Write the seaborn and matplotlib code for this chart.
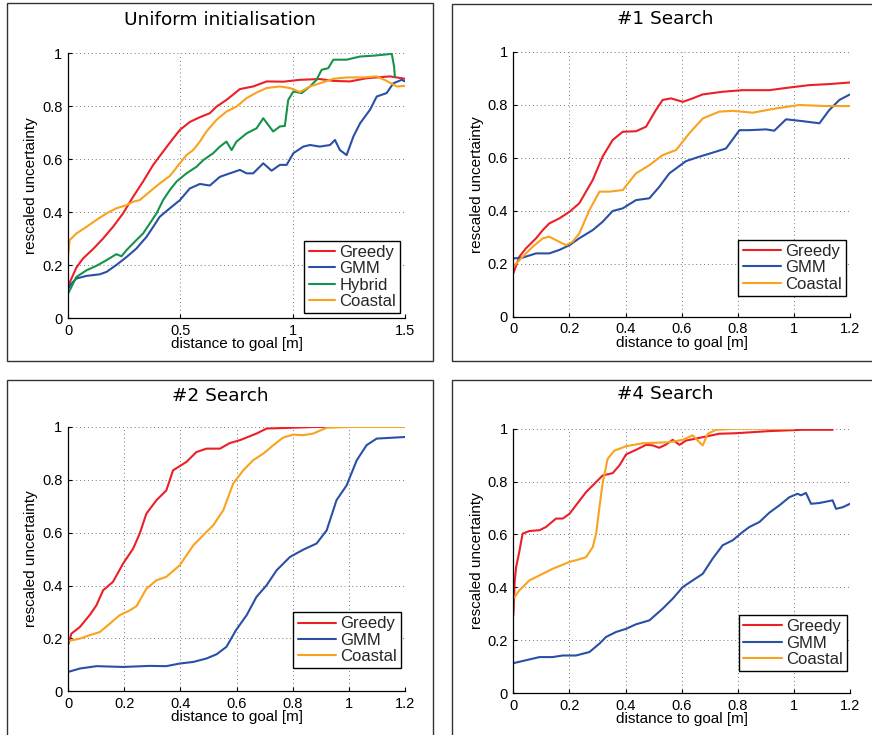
import matplotlib
matplotlib.use("Agg")
import matplotlib.pyplot as plt
from matplotlib.patches import Rectangle
import seaborn as sns
import pandas as pd

# ---------------- data ----------------
methods4 = ["Greedy", "GMM", "Hybrid", "Coastal"]
methods3 = ["Greedy", "GMM", "Coastal"]
titles = ["Uniform initialisation", "#1 Search", "#2 Search", "#4 Search"]
xticks_p1 = [0, 0.5, 1, 1.5]
xticks_p2 = [0, 0.2, 0.4, 0.6, 0.8, 1, 1.2]
yticks = [0, 0.2, 0.4, 0.6, 0.8, 1]

# Panel 1: Uniform initialisation
p1_greedy_x = [0, 0.037, 0.067, 0.111, 0.156, 0.2, 0.245, 0.29, 0.334, 0.379, 0.423, 0.468, 0.498, 0.542, 0.587, 0.631, 0.661, 0.705, 0.765, 0.824, 0.884, 0.958, 1.032, 1.121, 1.181, 1.255, 1.329, 1.433, 1.5]
p1_greedy_y = [0.12, 0.19, 0.225, 0.26, 0.30, 0.344, 0.395, 0.458, 0.515, 0.578, 0.628, 0.678, 0.71, 0.74, 0.758, 0.773, 0.798, 0.823, 0.864, 0.874, 0.893, 0.892, 0.899, 0.902, 0.895, 0.893, 0.905, 0.912, 0.903]
p1_gmm_x = [0, 0.015, 0.037, 0.082, 0.141, 0.171, 0.215, 0.26, 0.304, 0.349, 0.379, 0.408, 0.453, 0.498, 0.542, 0.587, 0.631, 0.676, 0.72, 0.765, 0.795, 0.824, 0.869, 0.906, 0.943, 0.973, 1.003, 1.047, 1.077, 1.121, 1.166, 1.188, 1.21, 1.24, 1.27, 1.3, 1.344, 1.374, 1.418, 1.448, 1.485, 1.5]
p1_gmm_y = [0.11, 0.13, 0.149, 0.159, 0.165, 0.174, 0.2, 0.23, 0.262, 0.306, 0.344, 0.382, 0.414, 0.445, 0.489, 0.506, 0.50, 0.533, 0.546, 0.559, 0.546, 0.546, 0.584, 0.556, 0.578, 0.578, 0.622, 0.647, 0.653, 0.647, 0.653, 0.672, 0.634, 0.615, 0.685, 0.735, 0.786, 0.836, 0.849, 0.886, 0.899, 0.893]
p1_hyb_x = [0, 0.015, 0.037, 0.082, 0.126, 0.171, 0.215, 0.238, 0.26, 0.304, 0.334, 0.364, 0.394, 0.423, 0.453, 0.483, 0.527, 0.572, 0.602, 0.646, 0.676, 0.705, 0.728, 0.75, 0.795, 0.839, 0.869, 0.891, 0.913, 0.943, 0.965, 0.98, 1.003, 1.04, 1.077, 1.106, 1.129, 1.158, 1.181, 1.24, 1.3, 1.359, 1.441, 1.451, 1.455]
p1_hyb_y = [0.092, 0.117, 0.155, 0.18, 0.197, 0.218, 0.241, 0.233, 0.256, 0.294, 0.319, 0.357, 0.395, 0.445, 0.483, 0.515, 0.546, 0.571, 0.596, 0.622, 0.647, 0.666, 0.634, 0.666, 0.697, 0.716, 0.754, 0.729, 0.704, 0.723, 0.725, 0.823, 0.855, 0.849, 0.874, 0.899, 0.937, 0.943, 0.975, 0.975, 0.987, 0.99, 0.997, 0.95, 0.909]
p1_coa_x = [0, 0.007, 0.037, 0.082, 0.126, 0.171, 0.215, 0.26, 0.29, 0.319, 0.364, 0.408, 0.453, 0.498, 0.527, 0.557, 0.587, 0.616, 0.661, 0.705, 0.75, 0.795, 0.839, 0.884, 0.943, 0.988, 1.032, 1.077, 1.121, 1.181, 1.24, 1.314, 1.374, 1.418, 1.463, 1.5]
p1_coa_y = [0.231, 0.294, 0.319, 0.344, 0.37, 0.395, 0.414, 0.426, 0.439, 0.445, 0.477, 0.508, 0.536, 0.584, 0.615, 0.634, 0.666, 0.704, 0.748, 0.779, 0.798, 0.83, 0.851, 0.868, 0.874, 0.868, 0.853, 0.874, 0.886, 0.903, 0.908, 0.908, 0.912, 0.895, 0.874, 0.876]

# Panel 2: #1 Search
p2_greedy_x = [0, 0.021, 0.045, 0.081, 0.105, 0.128, 0.164, 0.2, 0.235, 0.283, 0.318, 0.354, 0.39, 0.437, 0.473, 0.508, 0.532, 0.562, 0.604, 0.639, 0.675, 0.746, 0.817, 0.912, 0.984, 1.055, 1.126, 1.2]
p2_greedy_y = [0.164, 0.226, 0.258, 0.296, 0.327, 0.352, 0.371, 0.396, 0.428, 0.516, 0.604, 0.667, 0.698, 0.70, 0.717, 0.78, 0.818, 0.824, 0.811, 0.824, 0.839, 0.849, 0.855, 0.855, 0.865, 0.874, 0.878, 0.884]
p2_gmm_x = [0, 0.033, 0.081, 0.128, 0.164, 0.2, 0.235, 0.283, 0.318, 0.354, 0.39, 0.437, 0.485, 0.52, 0.556, 0.615, 0.663, 0.71, 0.758, 0.806, 0.841, 0.901, 0.93, 0.972, 1.031, 1.091, 1.126, 1.162, 1.2]
p2_gmm_y = [0.22, 0.223, 0.239, 0.239, 0.252, 0.27, 0.296, 0.327, 0.358, 0.399, 0.409, 0.44, 0.447, 0.49, 0.541, 0.587, 0.604, 0.619, 0.635, 0.704, 0.704, 0.707, 0.702, 0.745, 0.738, 0.73, 0.78, 0.818, 0.839]
p2_coa_x = [0, 0.033, 0.069, 0.105, 0.128, 0.152, 0.188, 0.211, 0.235, 0.271, 0.307, 0.342, 0.39, 0.437, 0.485, 0.532, 0.58, 0.627, 0.675, 0.734, 0.782, 0.853, 0.936, 1.019, 1.114, 1.2]
p2_coa_y = [0.189, 0.226, 0.264, 0.296, 0.302, 0.289, 0.27, 0.283, 0.314, 0.402, 0.472, 0.472, 0.478, 0.541, 0.572, 0.61, 0.629, 0.692, 0.748, 0.774, 0.777, 0.77, 0.786, 0.799, 0.795, 0.795]

# Panel 3: #2 Search
p3_greedy_x = [0, 0.012, 0.042, 0.077, 0.101, 0.125, 0.16, 0.196, 0.232, 0.255, 0.279, 0.315, 0.35, 0.374, 0.422, 0.457, 0.493, 0.541, 0.576, 0.612, 0.671, 0.707, 0.766, 0.885, 1.06]
p3_greedy_y = [0.174, 0.218, 0.243, 0.288, 0.325, 0.382, 0.414, 0.483, 0.54, 0.596, 0.672, 0.723, 0.76, 0.836, 0.868, 0.905, 0.918, 0.918, 0.939, 0.95, 0.975, 0.994, 0.996, 1.0, 1.0]
p3_gmm_x = [0, 0.042, 0.101, 0.196, 0.291, 0.35, 0.398, 0.446, 0.493, 0.529, 0.564, 0.598, 0.636, 0.671, 0.707, 0.743, 0.79, 0.838, 0.885, 0.921, 0.956, 0.992, 1.028, 1.063, 1.099, 1.2]
p3_gmm_y = [0.073, 0.086, 0.095, 0.092, 0.096, 0.095, 0.105, 0.111, 0.124, 0.14, 0.168, 0.231, 0.288, 0.357, 0.401, 0.458, 0.508, 0.536, 0.559, 0.609, 0.723, 0.779, 0.874, 0.931, 0.956, 0.962]
p3_coa_x = [0, 0.042, 0.077, 0.113, 0.149, 0.184, 0.22, 0.244, 0.279, 0.315, 0.35, 0.398, 0.446, 0.481, 0.517, 0.553, 0.588, 0.624, 0.659, 0.695, 0.731, 0.766, 0.802, 0.838, 0.873, 0.921, 1.004, 1.2]
p3_coa_y = [0.19, 0.199, 0.212, 0.224, 0.256, 0.288, 0.306, 0.322, 0.388, 0.42, 0.433, 0.477, 0.552, 0.59, 0.628, 0.685, 0.786, 0.836, 0.874, 0.899, 0.931, 0.96, 0.971, 0.969, 0.975, 0.997, 1.0, 1.0]

# Panel 4: #4 Search
p4_greedy_x = [0, 0.005, 0.01, 0.021, 0.033, 0.057, 0.093, 0.116, 0.152, 0.176, 0.2, 0.223, 0.259, 0.295, 0.318, 0.354, 0.378, 0.402, 0.437, 0.473, 0.497, 0.52, 0.544, 0.568, 0.592, 0.615, 0.675, 0.734, 0.794, 0.912, 1.031, 1.138]
p4_greedy_y = [0.294, 0.426, 0.477, 0.533, 0.603, 0.613, 0.616, 0.628, 0.66, 0.66, 0.678, 0.71, 0.76, 0.798, 0.823, 0.832, 0.861, 0.903, 0.92, 0.939, 0.937, 0.928, 0.94, 0.958, 0.939, 0.955, 0.968, 0.981, 0.983, 0.991, 0.996, 0.996]
p4_gmm_x = [0, 0.045, 0.093, 0.14, 0.176, 0.223, 0.271, 0.307, 0.33, 0.366, 0.402, 0.437, 0.485, 0.532, 0.568, 0.604, 0.639, 0.675, 0.71, 0.746, 0.782, 0.817, 0.841, 0.877, 0.912, 0.948, 0.984, 1.013, 1.025, 1.043, 1.061, 1.091, 1.138, 1.15, 1.174, 1.2]
p4_gmm_y = [0.113, 0.124, 0.136, 0.136, 0.142, 0.142, 0.155, 0.187, 0.212, 0.231, 0.243, 0.26, 0.275, 0.319, 0.357, 0.401, 0.426, 0.451, 0.508, 0.559, 0.578, 0.609, 0.628, 0.647, 0.682, 0.71, 0.741, 0.754, 0.748, 0.757, 0.716, 0.719, 0.729, 0.697, 0.703, 0.716]
p4_coa_x = [0, 0.021, 0.057, 0.093, 0.14, 0.2, 0.235, 0.259, 0.283, 0.295, 0.307, 0.318, 0.336, 0.36, 0.402, 0.461, 0.556, 0.604, 0.639, 0.663, 0.675, 0.693, 0.722, 0.794, 1.0]
p4_coa_y = [0.357, 0.388, 0.426, 0.445, 0.47, 0.496, 0.506, 0.514, 0.552, 0.603, 0.704, 0.792, 0.886, 0.917, 0.934, 0.945, 0.949, 0.958, 0.975, 0.949, 0.937, 0.981, 0.996, 1.0, 1.0]

palette = {"Greedy": "#EC1F27", "GMM": "#2A50A6", "Hybrid": "#16934A", "Coastal": "#F9A21D"}


def make_df(series):
    rows = []
    for name, xs, ys in series:
        for i, (x, y) in enumerate(zip(xs, ys)):
            rows.append({"method": name, "order": i, "x": x, "y": y})
    return pd.DataFrame(rows)


panels = [
    dict(df=make_df([("Greedy", p1_greedy_x, p1_greedy_y), ("GMM", p1_gmm_x, p1_gmm_y),
                     ("Hybrid", p1_hyb_x, p1_hyb_y), ("Coastal", p1_coa_x, p1_coa_y)]),
         methods=methods4, xlim=1.5, xticks=xticks_p1, title=titles[0],
         pos=[0.078, 0.5673, 0.3865, 0.3605], leg=(0.986, 0.019), hl=1.6,
         frame=[0.008, 0.5088, 0.4886, 0.4871], tx=220 / 872, ty=1 - 20 / 735),
    dict(df=make_df([("Greedy", p2_greedy_x, p2_greedy_y), ("GMM", p2_gmm_x, p2_gmm_y),
                     ("Coastal", p2_coa_x, p2_coa_y)]),
         methods=methods3, xlim=1.2, xticks=xticks_p2, title=titles[1],
         pos=[0.5887, 0.5691, 0.3861, 0.3605], leg=(0.988, 0.079), hl=2.3,
         frame=[0.5183, 0.5088, 0.5, 0.4857], tx=665.5 / 872, ty=1 - 19.5 / 735),
    dict(df=make_df([("Greedy", p3_greedy_x, p3_greedy_y), ("GMM", p3_gmm_x, p3_gmm_y),
                     ("Coastal", p3_coa_x, p3_coa_y)]),
         methods=methods3, xlim=1.2, xticks=xticks_p2, title=titles[2],
         pos=[0.078, 0.0595, 0.3865, 0.3596], leg=(0.988, 0.087), hl=2.3,
         frame=[0.008, -0.01, 0.4886, 0.493], tx=220 / 872, ty=1 - 396.5 / 735),
    dict(df=make_df([("Greedy", p4_greedy_x, p4_greedy_y), ("GMM", p4_gmm_x, p4_gmm_y),
                     ("Coastal", p4_coa_x, p4_coa_y)]),
         methods=methods3, xlim=1.2, xticks=xticks_p2, title=titles[3],
         pos=[0.5887, 0.0571, 0.3861, 0.3596], leg=(0.99, 0.083), hl=2.3,
         frame=[0.5183, -0.01, 0.5, 0.493], tx=665.5 / 872, ty=1 - 394 / 735),
]

sns.set_theme(style="white")
plt.rcParams["font.family"] = ["Liberation Sans", "DejaVu Sans"]

fig = plt.figure(figsize=(8.72, 7.35), dpi=100)
fig.patch.set_facecolor("white")

for p in panels:
    fig.patches.append(Rectangle((p["frame"][0], p["frame"][1]), p["frame"][2], p["frame"][3],
                                 transform=fig.transFigure, fill=False, edgecolor="#333333",
                                 linewidth=1.0, zorder=0))
    ax = fig.add_axes(p["pos"])
    sns.lineplot(data=p["df"], x="x", y="y", hue="method", hue_order=p["methods"],
                 palette=palette, sort=False, estimator=None, units="method",
                 linewidth=1.5, ax=ax, legend=True)
    ax.set_xlim(0, p["xlim"])
    ax.set_ylim(0, 1)
    ax.set_xticks(p["xticks"])
    ax.set_xticklabels([f"{t:g}" for t in p["xticks"]])
    ax.set_yticks(yticks)
    ax.set_yticklabels([f"{t:g}" for t in yticks])
    ax.tick_params(axis="both", direction="in", length=3, width=0.8, labelsize=10.5,
                   colors="black", left=True, bottom=True, pad=4)
    ax.grid(True, linestyle=(0, (1, 3)), color="#777777", linewidth=0.7)
    for s in ["top", "right"]:
        ax.spines[s].set_visible(False)
    for s in ["left", "bottom"]:
        ax.spines[s].set_color("black")
        ax.spines[s].set_linewidth(0.9)
    ax.set_xlabel("distance to goal [m]", fontsize=11, color="black")
    ax.set_ylabel("rescaled uncertainty", fontsize=11, color="black")
    ax.xaxis.set_label_coords(0.5, -0.072)
    ax.yaxis.set_label_coords(-0.088, 0.5)
    handles, labels = ax.get_legend_handles_labels()
    leg = ax.legend(handles, labels, loc="lower right", bbox_to_anchor=p["leg"],
                    fontsize=12, frameon=True, fancybox=False, framealpha=1,
                    edgecolor="black", handlelength=p["hl"], handletextpad=0.25,
                    labelspacing=0.08, borderpad=0.25, borderaxespad=0.0)
    leg.get_frame().set_linewidth(1.0)
    fig.text(p["tx"], p["ty"], p["title"], ha="center", va="center", fontsize=13.3,
             family="DejaVu Sans", color="black")

fig.savefig("out.png", dpi=100, facecolor="white")
